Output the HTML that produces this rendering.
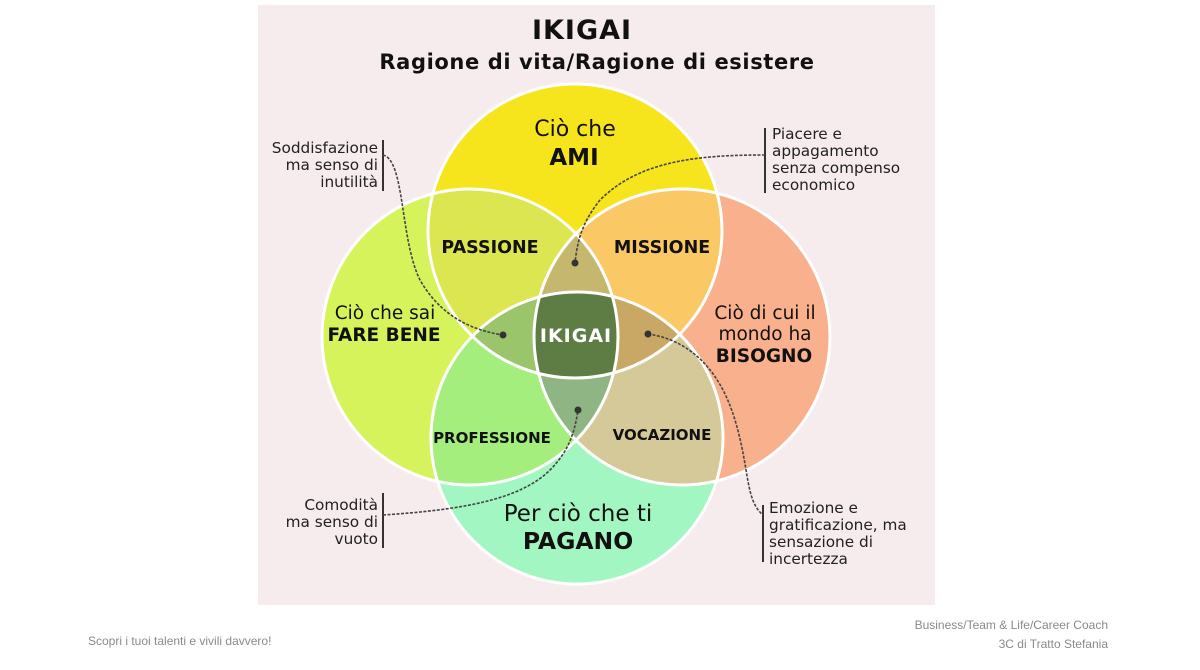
<!DOCTYPE html>
<html><head><meta charset="utf-8"><style>
body{margin:0;width:1200px;height:670px;background:#fff;overflow:hidden;position:relative;font-family:"Liberation Sans",sans-serif}
.ft{position:absolute;color:#8a8a8a;font-size:12px;font-family:"Liberation Sans Narrow","Liberation Sans",sans-serif}
</style></head><body>
<svg width="1200" height="670" style="position:absolute;left:0;top:0" font-family="DejaVu Sans, Liberation Sans, sans-serif">
<defs>
<clipPath id="cT"><circle cx="575" cy="231" r="147"/></clipPath>
<clipPath id="cB"><circle cx="577" cy="438" r="146"/></clipPath>
<clipPath id="cL"><circle cx="470" cy="337" r="148"/></clipPath>
<clipPath id="cR"><circle cx="682" cy="337" r="148"/></clipPath>
</defs>
<rect x="258" y="5" width="677" height="600" fill="#f6ecee"/>
<text x="582" y="39" text-anchor="middle" font-size="27" font-weight="bold" fill="#111" letter-spacing="1">IKIGAI</text>
<text x="597" y="69" text-anchor="middle" font-size="21" font-weight="bold" fill="#111" letter-spacing="0.6">Ragione di vita/Ragione di esistere</text>

<circle cx="575" cy="231" r="147" fill="#f6e51c"/>
<circle cx="470" cy="337" r="148" fill="#d6f35c"/>
<circle cx="682" cy="337" r="148" fill="#f9b08c"/>
<circle cx="577" cy="438" r="146" fill="#a2f6c2"/>
<g clip-path="url(#cT)"><circle cx="470" cy="337" r="148" fill="#dbe650"/><circle cx="682" cy="337" r="148" fill="#fbc866"/></g>
<g clip-path="url(#cB)"><circle cx="470" cy="337" r="148" fill="#a4ee7e"/><circle cx="682" cy="337" r="148" fill="#d5c999"/></g>
<g clip-path="url(#cL)"><g clip-path="url(#cR)"><rect x="0" y="0" width="1200" height="670" fill="#c5b76e"/></g></g>
<g clip-path="url(#cT)"><g clip-path="url(#cB)"><circle cx="470" cy="337" r="148" fill="#9ac56b"/><circle cx="682" cy="337" r="148" fill="#c9a764"/></g></g>
<g clip-path="url(#cB)"><g clip-path="url(#cL)"><circle cx="682" cy="337" r="148" fill="#8fb584"/></g></g>
<g clip-path="url(#cT)"><g clip-path="url(#cB)"><g clip-path="url(#cL)"><circle cx="682" cy="337" r="148" fill="#5e7d45"/></g></g></g>
<g fill="none" stroke="#fff" stroke-width="3">
<circle cx="575" cy="231" r="147"/><circle cx="470" cy="337" r="148"/><circle cx="682" cy="337" r="148"/><circle cx="577" cy="438" r="146"/>
</g>

<g fill="#111" text-anchor="middle">
<text x="575" y="136" font-size="22">Ciò che</text>
<text x="574" y="165" font-size="23" font-weight="bold">AMI</text>
<text x="490" y="253" font-size="17.5" font-weight="bold">PASSIONE</text>
<text x="662" y="253" font-size="17.5" font-weight="bold">MISSIONE</text>
<text x="385" y="319" font-size="18.5">Ciò che sai</text>
<text x="384" y="341" font-size="18.5" font-weight="bold">FARE BENE</text>
<text x="576" y="342" font-size="19" font-weight="bold" fill="#fff" letter-spacing="1">IKIGAI</text>
<text x="765" y="319" font-size="18.5">Ciò di cui il</text>
<text x="765" y="340" font-size="18.5">mondo ha</text>
<text x="764" y="362" font-size="18.5" font-weight="bold">BISOGNO</text>
<text x="492" y="443" font-size="15" font-weight="bold">PROFESSIONE</text>
<text x="662" y="440" font-size="15" font-weight="bold">VOCAZIONE</text>
<text x="578" y="521" font-size="23">Per ciò che ti</text>
<text x="578" y="549" font-size="23.5" font-weight="bold">PAGANO</text>
</g>

<g fill="#222" font-size="15.3">
<g text-anchor="end">
<text x="378" y="153">Soddisfazione</text><text x="378" y="170">ma senso di</text><text x="378" y="187">inutilità</text>
<text x="378" y="510">Comodità</text><text x="378" y="527">ma senso di</text><text x="378" y="544">vuoto</text>
</g>
<text x="772" y="139">Piacere e</text><text x="772" y="156">appagamento</text><text x="772" y="173">senza compenso</text><text x="772" y="190">economico</text>
<text x="769" y="513">Emozione e</text><text x="769" y="530">gratificazione, ma</text><text x="769" y="547">sensazione di</text><text x="769" y="564">incertezza</text>
</g>

<g stroke="#333" stroke-width="2" fill="none">
<line x1="383" y1="140" x2="383" y2="191"/>
<line x1="765" y1="128" x2="765" y2="193"/>
<line x1="383" y1="493" x2="383" y2="548"/>
<line x1="763" y1="505" x2="763" y2="562"/>
</g>
<g stroke="#444" stroke-width="1.6" fill="none" stroke-dasharray="3 1.5">
<path d="M383 155 C405 160 400 240 420 280 C440 315 470 330 503 335"/>
<path d="M765 155 C700 155 640 160 600 200 C580 225 577 245 575 263"/>
<path d="M383 515 C460 510 520 500 550 470 C570 450 575 430 578 410"/>
<path d="M648 334 C690 340 720 370 735 420 C750 470 745 500 763 515"/>
</g>
<g fill="#333">
<circle cx="503" cy="335" r="3.5"/><circle cx="575" cy="263" r="3.5"/><circle cx="578" cy="410" r="3.5"/><circle cx="648" cy="334" r="3.5"/>
</g>
</svg>
<div class="ft" style="left:88px;top:634px">Scopri i tuoi talenti e vivili davvero!</div>
<div class="ft" style="right:92px;top:616px;text-align:right;line-height:19px">Business/Team &amp; Life/Career Coach<br>3C di Tratto Stefania</div>
</body></html>
